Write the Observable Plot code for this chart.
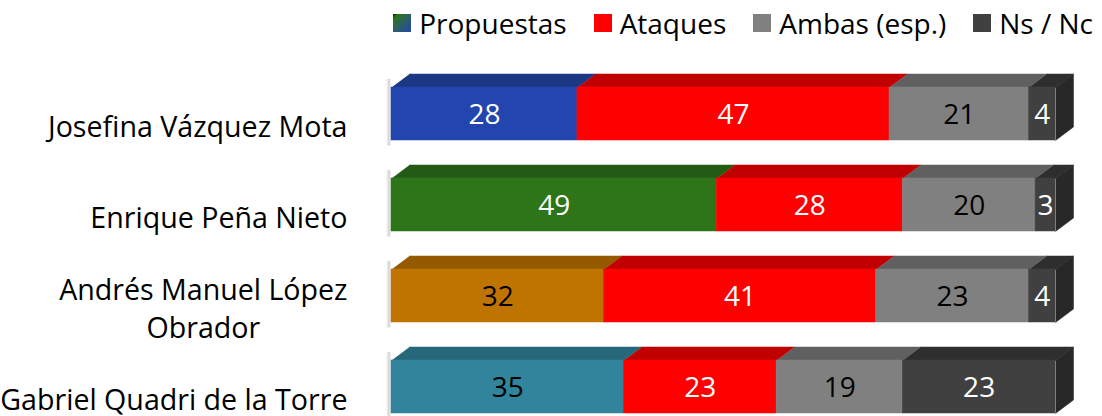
<!DOCTYPE html>
<html>
<head>
<meta charset="utf-8">
<script src="https://cdn.jsdelivr.net/npm/d3@7"></script>
<script src="https://cdn.jsdelivr.net/npm/@observablehq/plot@0.6"></script>
<style>
  html, body { margin: 0; padding: 0; background: #fff; }
  body { width: 1102px; height: 416px; overflow: hidden; font-family: "Open Sans", sans-serif; }
  #legend { height: 45px; display: flex; justify-content: flex-end; align-items: center; padding-right: 9px; box-sizing: border-box; font-size: 28px; color: #000; }
  .item { display: flex; align-items: center; margin-left: 27px; }
  .sw { width: 18px; height: 18px; margin-right: 8px; }
</style>
</head>
<body>
<div id="legend"></div>
<div id="chart"></div>
<script>
// ---- data ----
const categories = ["Josefina Vázquez Mota", "Enrique Peña Nieto", "Andrés Manuel López\nObrador", "Gabriel Quadri de la Torre"];
const seriesNames = ["Propuestas", "Ataques", "Ambas (esp.)", "Ns / Nc"];
const propuestas = [28, 49, 32, 35];
const ataques = [47, 28, 41, 23];
const ambas = [21, 20, 23, 19];
const nsnc = [4, 3, 4, 23];

// ---- colours ----
const propFront = ["#2345AE", "#2E7419", "#C07400", "#31849B"];
const propTop = ["#1C3884", "#245B14", "#955A00", "#26677A"];
const propText = ["#fff", "#fff", "#000", "#000"];
const otherFront = ["#FF0000", "#808080", "#404040"];
const otherTop = ["#C00000", "#606060", "#2E2E2E"];
const otherText = ["#fff", "#000", "#fff"];
const sideColor = "#282828";

// ---- geometry ----
const X0 = 391, X1 = 1055, Y0 = 42, ROW = 91, FRONT = 53, DX = 18, DY = 13.5;
const depthX = DX * 100 / (X1 - X0);
const depthY = DY / ROW;
const frontU = FRONT / ROW;

const valuesBySeries = [propuestas, ataques, ambas, nsnc];
const segs = [];
categories.forEach((c, i) => {
  let acc = 0;
  valuesBySeries.forEach((vals, s) => {
    const v = vals[i];
    segs.push({
      cat: c, row: i, series: seriesNames[s], value: v,
      x1: acc, x2: acc + v, top: i, bottom: i + frontU,
      front: s === 0 ? propFront[i] : otherFront[s - 1],
      topc: s === 0 ? propTop[i] : otherTop[s - 1],
      text: s === 0 ? propText[i] : otherText[s - 1],
      id: i + "-" + s
    });
    acc += v;
  });
});

const topPts = [];
segs.forEach(d => {
  topPts.push({id: d.id, c: d.topc, x: d.x1, y: d.top});
  topPts.push({id: d.id, c: d.topc, x: d.x2, y: d.top});
  topPts.push({id: d.id, c: d.topc, x: d.x2 + depthX, y: d.top - depthY});
  topPts.push({id: d.id, c: d.topc, x: d.x1 + depthX, y: d.top - depthY});
});
const sidePts = [];
categories.forEach((c, i) => {
  const tot = propuestas[i] + ataques[i] + ambas[i] + nsnc[i];
  sidePts.push({id: "s" + i, x: tot, y: i});
  sidePts.push({id: "s" + i, x: tot + depthX, y: i - depthY});
  sidePts.push({id: "s" + i, x: tot + depthX, y: i + frontU - depthY});
  sidePts.push({id: "s" + i, x: tot, y: i + frontU});
});

// ---- legend ----
const legend = document.getElementById("legend");
const swatches = ["linear-gradient(135deg, #111 0%, #2E7419 15%, #2B5E6A 55%, #2345AE 100%)", "#FF0000", "#808080", "#404040"];
seriesNames.forEach((n, k) => {
  const it = document.createElement("div");
  it.className = "item";
  const sw = document.createElement("div");
  sw.className = "sw";
  sw.style.background = swatches[k];
  const t = document.createElement("span");
  t.textContent = n;
  it.appendChild(sw); it.appendChild(t);
  legend.appendChild(it);
});

// ---- chart ----
const chart = Plot.plot({
  width: 1102,
  height: 371,
  margin: 0,
  style: {fontFamily: "Open Sans", background: "white", overflow: "visible"},
  x: {domain: [0, 100], range: [X0, X1], axis: null},
  y: {domain: [0, 4], range: [Y0, Y0 + 4 * ROW], axis: null},
  color: {type: "identity"},
  marks: [
    // soft left shadow
    Plot.rect(categories, {
      x1: () => -0.9, x2: () => 0,
      y1: (d, i) => i - depthY * 0.6, y2: (d, i) => i + frontU + 0.06,
      fill: "url(#lshadow)"
    }),
    Plot.line(topPts, {x: "x", y: "y", z: "id", fill: "c", stroke: "c", strokeWidth: 0.5, curve: "linear"}),
    Plot.line(sidePts, {x: "x", y: "y", z: "id", fill: sideColor, stroke: sideColor, strokeWidth: 0.5, curve: "linear"}),
    Plot.rect(segs, {x1: "x1", x2: "x2", y1: "top", y2: "bottom", fill: "front", stroke: "front", strokeWidth: 0.5}),
    Plot.text(segs, {
      x: d => (d.x1 + d.x2) / 2, y: d => (d.top + d.bottom) / 2,
      text: d => String(d.value), fill: "text", fontSize: 28, dy: 1
    }),
    Plot.text(categories, {
      x: () => 0, y: (d, i) => i + frontU / 2, text: d => d,
      textAnchor: "end", dx: -(X0 - 347), dy: 11, fontSize: 28.6, lineHeight: 1.33,
      fill: "#000"
    })
  ]
});
document.getElementById("chart").appendChild(chart);

// gradient for the left shadow
const ns = "http://www.w3.org/2000/svg";
const defs = document.createElementNS(ns, "defs");
const lg = document.createElementNS(ns, "linearGradient");
lg.setAttribute("id", "lshadow");
lg.setAttribute("x1", "0"); lg.setAttribute("x2", "1"); lg.setAttribute("y1", "0"); lg.setAttribute("y2", "0");
[["0%", "#ffffff", 0], ["60%", "#c4c4c4", 0.7], ["100%", "#dddddd", 0.5]].forEach(([o, c, a]) => {
  const st = document.createElementNS(ns, "stop");
  st.setAttribute("offset", o); st.setAttribute("stop-color", c); st.setAttribute("stop-opacity", a);
  lg.appendChild(st);
});
defs.appendChild(lg);
chart.insertBefore(defs, chart.firstChild);

// center multi-line category labels on their longest line
chart.querySelectorAll("text").forEach(t => {
  const spans = t.querySelectorAll("tspan");
  if (spans.length > 1) {
    let w = 0;
    spans.forEach(s => { w = Math.max(w, s.getComputedTextLength()); });
    t.setAttribute("text-anchor", "middle");
    t.style.textAnchor = "middle";
    spans.forEach(s => { s.setAttribute("x", String(-w / 2)); s.setAttribute("text-anchor", "middle"); });
  }
});
</script>
</body>
</html>
